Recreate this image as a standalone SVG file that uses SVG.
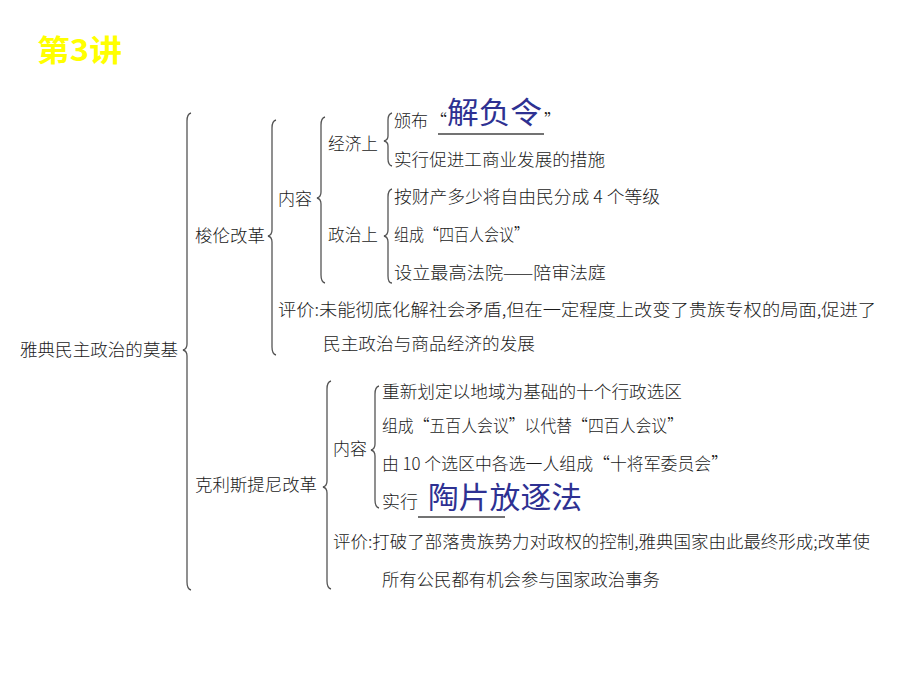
<svg xmlns="http://www.w3.org/2000/svg" width="920" height="690" viewBox="0 0 920 690">
<style>
.t{font-family:"Noto Sans CJK SC","Noto Sans",sans-serif;font-size:17px;fill:#1a1a1a;font-weight:300}
.b{font-family:"Noto Sans CJK SC","Noto Sans",sans-serif;font-size:30px;fill:#2E3192;font-weight:400}
.title{font-family:"Noto Sans CJK SC","Liberation Sans",sans-serif;font-size:30px;fill:#FFFF00;font-weight:700}
.br{fill:none;stroke:#555;stroke-width:1.3}
.ul{stroke:#444;stroke-width:1.3}
</style>
<rect width="920" height="690" fill="#fff"/>
<g id="title"><text class="title" x="37" y="61" textLength="85" lengthAdjust="spacingAndGlyphs">第3讲</text></g>
<g id="connectors">
<path class="br" d="M191,113 Q187,114 187,121 L187,344 Q187,349 183,350 Q187,351 187,356 L187,582 Q187,589 191,590"/>
<path class="br" d="M276,120 Q272,121 272,128 L272,230 Q272,235 268,236 Q272,237 272,242 L272,347 Q272,354 276,355"/>
<path class="br" d="M325,117 Q321,118 321,125 L321,192 Q321,197 317,198 Q321,199 321,204 L321,275 Q321,282 325,283"/>
<path class="br" d="M392,113 Q388,114 388,120 L388,136 Q388,140 384,141 Q388,142 388,146 L388,159 Q388,165 392,166"/>
<path class="br" d="M392,189 Q388,190 388,197 L388,230 Q388,235 384,236 Q388,237 388,242 L388,276 Q388,283 392,283"/>
<path class="br" d="M331,381 Q327,382 327,389 L327,481 Q327,486 323,487 Q327,488 327,493 L327,581 Q327,588 331,589"/>
<path class="br" d="M379,386 Q375,387 375,394 L375,444 Q375,449 371,450 Q375,451 375,456 L375,500 Q375,507 379,508"/>
</g>
<g id="root"><text class="t" x="20" y="356" textLength="158" lengthAdjust="spacingAndGlyphs">雅典民主政治的莫基</text></g>
<g id="solon"><text class="t" x="195" y="242" textLength="70" lengthAdjust="spacingAndGlyphs">梭伦改革</text></g>
<g id="solon-content"><text class="t" x="278" y="205" textLength="34" lengthAdjust="spacingAndGlyphs">内容</text></g>
<g id="solon-econ"><text class="t" x="328" y="150" textLength="50" lengthAdjust="spacingAndGlyphs">经济上</text></g>
<g id="econ-1">
<text class="t" x="394" y="127" textLength="34" lengthAdjust="spacingAndGlyphs">颁布</text>
<text class="t" x="430" y="127">“</text>
<text class="b" x="447" y="123" textLength="95" lengthAdjust="spacingAndGlyphs">解负令</text>
<text class="t" x="544" y="127" font-size="14">”</text>
<line class="ul" x1="438" y1="134" x2="544" y2="134"/>
</g>
<g id="econ-2"><text class="t" x="394" y="166" textLength="211" lengthAdjust="spacingAndGlyphs">实行促进工商业发展的措施</text></g>
<g id="solon-pol"><text class="t" x="328" y="241" textLength="50" lengthAdjust="spacingAndGlyphs">政治上</text></g>
<g id="pol-1"><text class="t" x="394" y="203" textLength="266" lengthAdjust="spacingAndGlyphs">按财产多少将自由民分成 4 个等级</text></g>
<g id="pol-2"><text class="t" x="394" y="241" textLength="135" lengthAdjust="spacingAndGlyphs">组成“四百人会议”</text></g>
<g id="pol-3"><text class="t" x="394" y="279" textLength="212" lengthAdjust="spacingAndGlyphs">设立最高法院——陪审法庭</text></g>
<g id="solon-eval">
<text class="t" x="278" y="316" textLength="598" lengthAdjust="spacingAndGlyphs">评价:未能彻底化解社会矛盾,但在一定程度上改变了贵族专权的局面,促进了</text>
<text class="t" x="323" y="350" textLength="212" lengthAdjust="spacingAndGlyphs">民主政治与商品经济的发展</text>
</g>
<g id="cleisthenes"><text class="t" x="195" y="491" textLength="122" lengthAdjust="spacingAndGlyphs">克利斯提尼改革</text></g>
<g id="cl-content"><text class="t" x="333" y="455" textLength="34" lengthAdjust="spacingAndGlyphs">内容</text></g>
<g id="cl-1"><text class="t" x="382" y="398" textLength="300" lengthAdjust="spacingAndGlyphs">重新划定以地域为基础的十个行政选区</text></g>
<g id="cl-2"><text class="t" x="382" y="432" textLength="301" lengthAdjust="spacingAndGlyphs">组成“五百人会议”以代替“四百人会议”</text></g>
<g id="cl-3"><text class="t" x="382" y="470" textLength="346" lengthAdjust="spacingAndGlyphs">由 10 个选区中各选一人组成“十将军委员会”</text></g>
<g id="cl-4">
<text class="t" x="382" y="508" textLength="36" lengthAdjust="spacingAndGlyphs">实行</text>
<text class="b" x="428" y="508" textLength="154" lengthAdjust="spacingAndGlyphs">陶片放逐法</text>
<line class="ul" x1="418" y1="517" x2="505" y2="517"/>
</g>
<g id="cl-eval">
<text class="t" x="333" y="548" textLength="537" lengthAdjust="spacingAndGlyphs">评价:打破了部落贵族势力对政权的控制,雅典国家由此最终形成;改革使</text>
<text class="t" x="382" y="586" textLength="278" lengthAdjust="spacingAndGlyphs">所有公民都有机会参与国家政治事务</text>
</g>
</svg>
